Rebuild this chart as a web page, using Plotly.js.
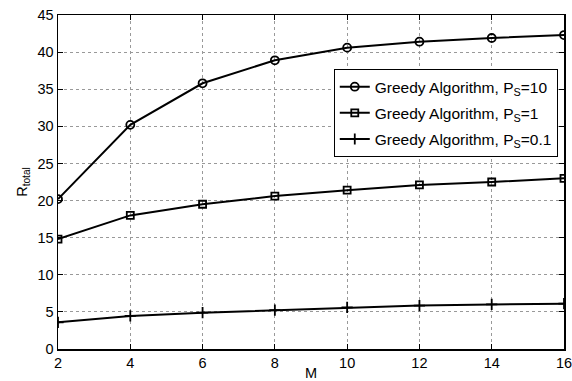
<!DOCTYPE html>
<html>
<head>
<meta charset="utf-8">
<script src="https://cdn.plot.ly/plotly-3.0.1.min.js"></script>
<style>html,body{margin:0;padding:0;background:#fff;}#chart{width:572px;height:381px;}</style>
</head>
<body>
<div id="chart"></div>
<script>
const M = [2, 4, 6, 8, 10, 12, 14, 16];
const ps10 = [20.2, 30.2, 35.8, 38.9, 40.6, 41.4, 41.9, 42.3];
const ps1 = [14.8, 18.0, 19.5, 20.6, 21.4, 22.1, 22.5, 23.0];
const ps01 = [3.6, 4.45, 4.9, 5.25, 5.6, 5.85, 6.0, 6.1];
const names = ["Greedy Algorithm, P<sub>S</sub>=10", "Greedy Algorithm, P<sub>S</sub>=1", "Greedy Algorithm, P<sub>S</sub>=0.1"];
const xTicks = [2, 4, 6, 8, 10, 12, 14, 16];
const yTicks = [0, 5, 10, 15, 20, 25, 30, 35, 40, 45];

const font = {family: "Liberation Sans, Arial, sans-serif", size: 14.5, color: "#000"};
const legFont = {family: "Liberation Sans, Arial, sans-serif", size: 15.5, color: "#000"};
const traces = [
  {x: M, y: ps10, name: names[0], mode: "lines+markers", legendgroup: "a",
   line: {color: "#000", width: 2},
   marker: {symbol: "circle-open", size: 8, color: "#000", line: {width: 1.8, color: "#000"}}},
  {x: M, y: ps1, name: names[1], mode: "lines+markers", legendgroup: "b",
   line: {color: "#000", width: 2},
   marker: {symbol: "square-open", size: 7, color: "#000", line: {width: 1.8, color: "#000"}}},
  {x: M, y: ps01, name: names[2], mode: "lines+markers", legendgroup: "c",
   line: {color: "#000", width: 2},
   marker: {symbol: "cross-thin", size: 8, color: "#000", line: {width: 1.8, color: "#000"}}}
];
const axisCommon = {
  showline: true, linecolor: "#000", linewidth: 1.5, mirror: "ticks",
  ticks: "inside", ticklen: 5, tickcolor: "#000", tickwidth: 1,
  showgrid: true, gridcolor: "#999", griddash: "dot", gridwidth: 1,
  zeroline: false, tickfont: font, ticklabeloverflow: "allow"
};
const layout = {
  width: 572, height: 381,
  margin: {l: 58, r: 8, t: 15, b: 32},
  paper_bgcolor: "#fff", plot_bgcolor: "#fff",
  font: font,
  showlegend: true,
  legend: {x: 0.545, y: 0.838, xanchor: "left", yanchor: "top",
           bgcolor: "#fff", bordercolor: "#000", borderwidth: 1,
           font: legFont, tracegroupgap: 3},
  xaxis: Object.assign({}, axisCommon, {range: [2, 16], tickvals: xTicks, ticktext: xTicks.map(String),
           title: {text: "M", font: font, standoff: 2}}),
  yaxis: Object.assign({}, axisCommon, {range: [0, 45], tickvals: yTicks, ticktext: yTicks.map(String),
           title: {text: "R<sub>total</sub>", font: font, standoff: 6}})
};
Plotly.newPlot("chart", traces, layout, {displayModeBar: false, staticPlot: true});
</script>
</body>
</html>
